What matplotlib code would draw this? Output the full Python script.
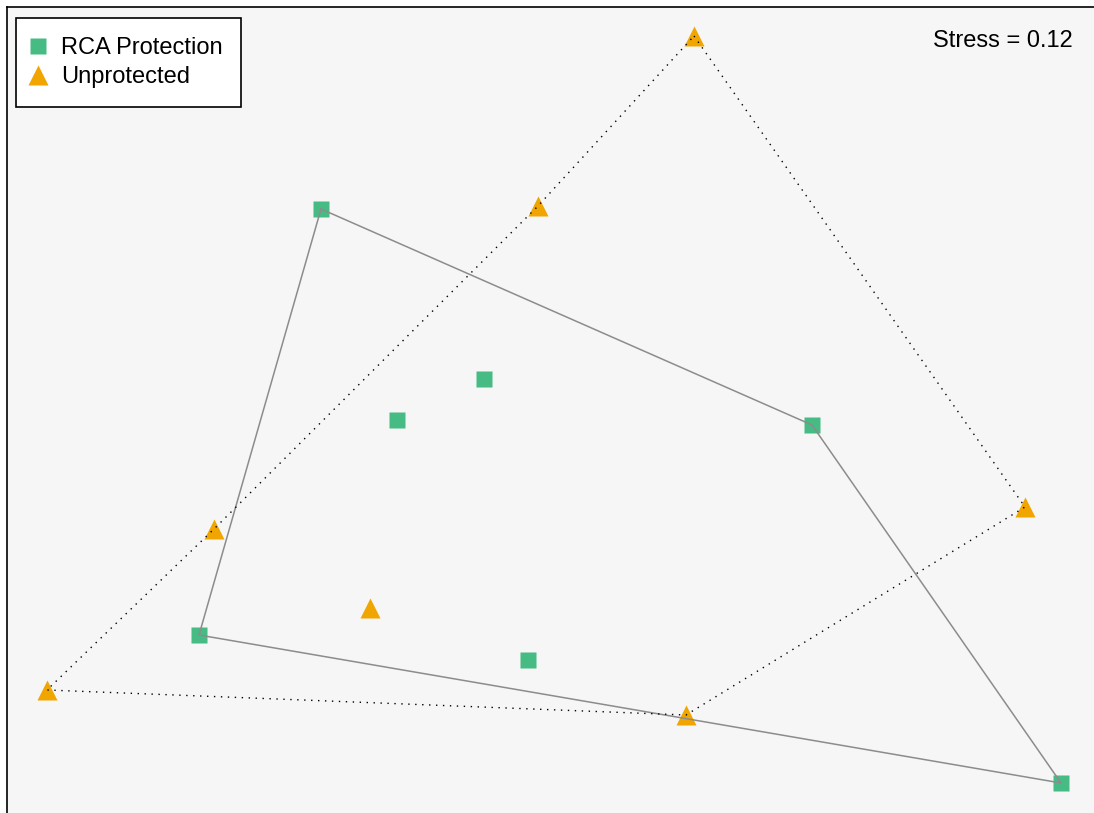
import matplotlib.pyplot as plt

plt.rcParams['font.family'] = ['Liberation Sans', 'DejaVu Sans']

# NMDS scores
rca_x = [-0.458, -0.132, -0.306, 0.524, -0.702, -0.044, 1.022]
rca_y = [0.482, 0.142, 0.060, 0.050, -0.370, -0.420, -0.666]
unp_x = [0.288, -0.024, -0.672, 0.950, -0.360, -1.006, 0.272]
unp_y = [0.828, 0.488, -0.158, -0.114, -0.316, -0.480, -0.530]

# hull vertex order (indices into the lists above)
rca_hull = [0, 3, 6, 4, 0]
unp_hull = [0, 3, 6, 5, 2, 1, 0]

stress = 0.12
green = '#46bc84'
orange = '#f0a500'

fig = plt.figure(figsize=(10.94, 8.13), dpi=100)
ax = fig.add_axes([7 / 1094, -7 / 813, 1093 / 1094, 1.0])
ax.set_facecolor('#f6f6f6')

ax.plot(rca_x, rca_y, 's', color=green, ms=11.5, mec='none', label='RCA Protection', zorder=2)
ax.plot(unp_x, unp_y, '^', color=orange, ms=14, mec='none', label='Unprotected', zorder=2)

ax.plot([rca_x[i] for i in rca_hull], [rca_y[i] for i in rca_hull],
        color='#8c8c8c', lw=1.1, zorder=3)
ax.plot([unp_x[i] for i in unp_hull], [unp_y[i] for i in unp_hull],
        color='black', lw=1.0, ls=(0, (1, 4)), zorder=3)

ax.set_xlim(-1.086, 1.100)
ax.set_ylim(-0.740, 0.886)
ax.set_xticks([])
ax.set_yticks([])
for s in ax.spines.values():
    s.set_linewidth(1.2)

ax.text(0.975, 1 - 34 / 813, f'Stress = {stress}', transform=ax.transAxes,
        ha='right', va='center', fontsize=17)

leg = ax.legend(loc='upper left', bbox_to_anchor=(9 / 1093, 1 - 11 / 813),
                fontsize=17, frameon=True, fancybox=False,
                edgecolor='black', framealpha=1, handletextpad=0.8,
                borderaxespad=0, borderpad=0.8, handlelength=0.3,
                labelspacing=0.32)
leg.get_frame().set_linewidth(1.2)

fig.savefig('out.png', dpi=100)
